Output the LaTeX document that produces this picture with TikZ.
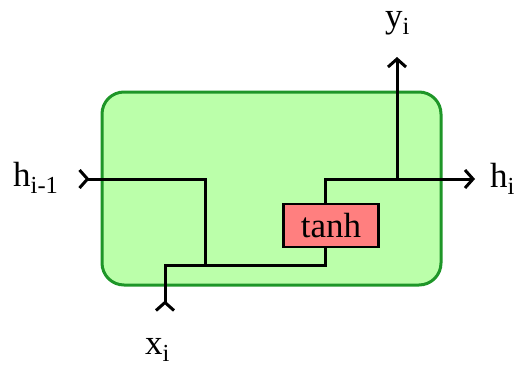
\documentclass[tikz,border=0pt]{standalone}
\usepackage{fontspec}
\setmainfont{Liberation Serif}
\usetikzlibrary{arrows.meta,positioning}
\definecolor{cellgreen}{HTML}{BBFFAA}
\definecolor{cellborder}{HTML}{1E9628}
\definecolor{gatered}{HTML}{FF7F7F}

\begin{document}
\begin{tikzpicture}[x=1pt, y=1pt,
  cellbox/.style={rectangle, rounded corners=22pt, draw=cellborder, line width=3pt,
    fill=cellgreen, minimum width=339pt, minimum height=193pt},
  gatebox/.style={rectangle, draw=black, line width=2.5pt, fill=gatered,
    minimum width=95pt, minimum height=43pt, inner sep=0pt, font=\fontsize{35}{40}\selectfont},
  wire/.style={draw=black, line width=3pt},
  inarrow/.style={wire, {Straight Barb[reversed, length=8pt, width=18pt]}-},
  outarrow/.style={wire, -{Straight Barb[length=8pt, width=18pt]}},
  vartext/.style={font=\fontsize{35}{40}\selectfont, inner sep=0pt, anchor=base west}
]
\useasboundingbox (0,0) rectangle (520,368);

% RNN cell body
\node[cellbox] (cell) at (271.5,179.5) {};

% tanh gate inside the cell
\node[gatebox] (gate) at (331,142.5) {tanh};

% wiring points
\coordinate (hin) at (78,189);
\coordinate (merge) at (205,103);
\coordinate (xin) at (165,56);
\coordinate (split) at (397,189);
\coordinate (hout) at (475,189);
\coordinate (yout) at (397,311);

% inputs h_{i-1} and x_i merge, then go through tanh
\draw[inarrow] (hin) -| (merge);
\draw[inarrow] (xin) |- (merge) -| ([xshift=-6pt]gate.south);

% outputs h_i and y_i
\draw[outarrow] ([xshift=-6pt]gate.north) |- (hout);
\draw[outarrow] (split) -- (yout);

% labels
\node[vartext] (hprev) at (13,182) {h\textsubscript{i-1}};
\node[vartext] (hnext) at (490,181) {h\textsubscript{i}};
\node[vartext] (yvar) at (385,341) {y\textsubscript{i}};
\node[vartext] (xvar) at (145,14) {x\textsubscript{i}};

\end{tikzpicture}
\end{document}
